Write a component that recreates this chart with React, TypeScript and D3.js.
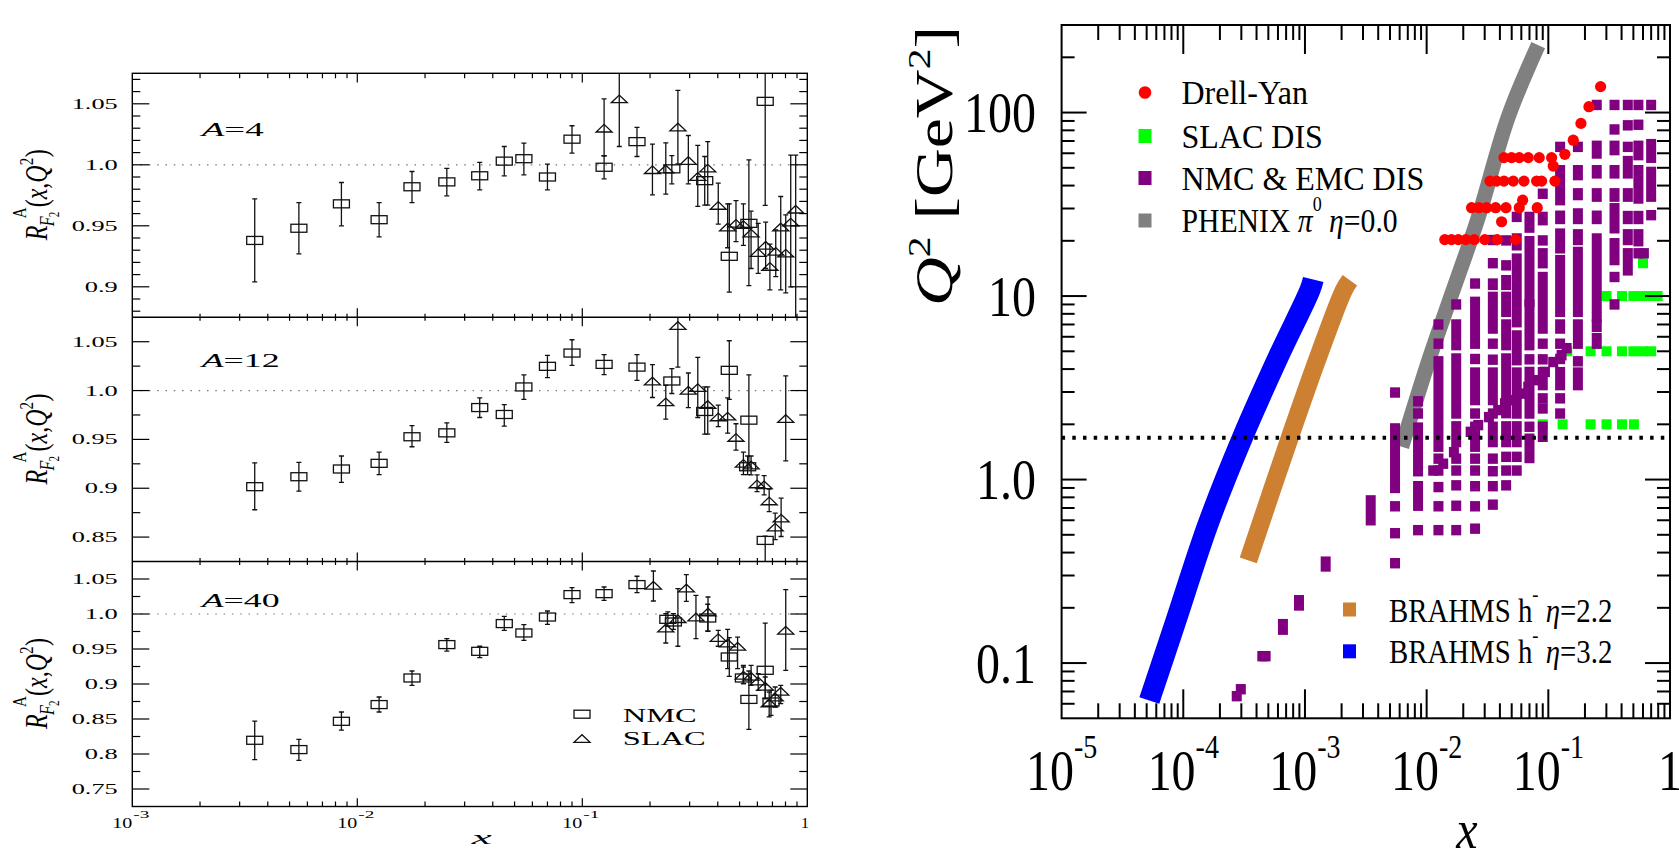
import React from 'react';
import * as d3 from 'd3';

// ---------- left panels: R_F2^A ratios, [x, ratio, low, high] ----------
const nmcA4 = [
  [0.0035, 0.938, 0.904, 0.972], [0.0055, 0.948, 0.927, 0.969], [0.0085, 0.968, 0.950, 0.9855],
  [0.0125, 0.955, 0.941, 0.969], [0.0175, 0.982, 0.969, 0.9945], [0.025, 0.986, 0.9746, 0.997],
  [0.035, 0.991, 0.9795, 1.002], [0.045, 1.003, 0.991, 1.015], [0.055, 1.005, 0.9918, 1.0178],
  [0.07, 0.990, 0.9795, 1.0006], [0.09, 1.021, 1.0096, 1.032], [0.125, 0.998, 0.9885, 1.0074],
  [0.175, 1.019, 1.0068, 1.0306], [0.25, 0.9967, 0.9844, 1.0076], [0.35, 0.987, 0.967, 1.0068],
  [0.45, 0.925, 0.8957, 0.968], [0.55, 0.952, 0.901, 1.004], [0.65, 1.052, 0.9667, 1.09],
];
const slacA4 = [
  [0.125, 1.030, 1.0074, 1.054], [0.146, 1.054, 1.015, 1.09], [0.205, 0.996, 0.9754, 1.017],
  [0.235, 0.9965, 0.976, 1.018], [0.266, 1.031, 1.0008, 1.061], [0.296, 1.0035, 0.9844, 1.024],
  [0.326, 0.9904, 0.966, 1.016], [0.361, 0.9973, 0.967, 1.019], [0.402, 0.9667, 0.9514, 0.985],
  [0.4425, 0.949, 0.932, 0.968], [0.482, 0.952, 0.937, 0.9707], [0.52, 0.951, 0.934, 0.968],
  [0.5625, 0.944, 0.915, 0.962], [0.605, 0.928, 0.911, 0.952], [0.653, 0.934, 0.915, 0.953],
  [0.682, 0.9167, 0.8975, 0.935], [0.724, 0.929, 0.9084, 0.9467], [0.762, 0.949, 0.8975, 0.974],
  [0.802, 0.9276, 0.895, 0.959], [0.844, 0.953, 0.90, 1.008], [0.888, 0.9636, 0.87, 1.008],
];
const nmcA12 = [
  [0.0035, 0.9016, 0.878, 0.926], [0.0055, 0.9118, 0.897, 0.9265], [0.0085, 0.9197, 0.906, 0.933],
  [0.0125, 0.9255, 0.914, 0.937], [0.0175, 0.9527, 0.9425, 0.964], [0.025, 0.9567, 0.947, 0.967],
  [0.035, 0.9826, 0.9724, 0.9925], [0.045, 0.9755, 0.9636, 0.9857], [0.055, 1.0037, 0.991, 1.016],
  [0.07, 1.0248, 1.0133, 1.036], [0.09, 1.0384, 1.0258, 1.052], [0.125, 1.0268, 1.0163, 1.0367],
  [0.175, 1.024, 1.0105, 1.0367], [0.25, 1.0098, 0.997, 1.0224], [0.35, 0.9786, 0.9554, 1.0037],
  [0.45, 1.0207, 0.991, 1.051], [0.543, 0.922, 0.914, 0.933], [0.55, 0.9697, 0.924, 1.016],
  [0.65, 0.8466, 0.80, 0.851],
];
const slacA12 = [
  [0.205, 1.0098, 0.9929, 1.0265], [0.235, 0.9884, 0.9707, 1.0054], [0.266, 1.0666, 1.024, 1.11],
  [0.296, 1.0003, 0.9826, 1.018], [0.326, 1.003, 0.9724, 1.034], [0.361, 0.9857, 0.9554, 1.0037],
  [0.402, 0.973, 0.963, 0.985], [0.4425, 0.9738, 0.9564, 0.9925], [0.482, 0.952, 0.939, 0.966],
  [0.52, 0.9255, 0.914, 0.937], [0.5625, 0.9238, 0.9136, 0.933], [0.598, 0.9044, 0.8965, 0.9136],
  [0.643, 0.9034, 0.8932, 0.9129], [0.677, 0.887, 0.876, 0.899], [0.72, 0.8602, 0.8473, 0.8745],
  [0.765, 0.8694, 0.8506, 0.8898], [0.802, 0.9714, 0.928, 1.015],
];
const nmcA40 = [
  [0.0035, 0.8196, 0.792, 0.847], [0.0055, 0.8063, 0.791, 0.821], [0.0085, 0.8467, 0.834, 0.86],
  [0.0125, 0.8706, 0.86, 0.8814], [0.0175, 0.9086, 0.898, 0.9186], [0.025, 0.9563, 0.9471, 0.9649],
  [0.035, 0.9467, 0.9377, 0.9539], [0.045, 0.9863, 0.9767, 0.9967], [0.055, 0.9729, 0.9624, 0.9849],
  [0.07, 0.9957, 0.9853, 1.0043], [0.09, 1.0277, 1.0163, 1.0377], [0.125, 1.0291, 1.0196, 1.0386],
  [0.175, 1.042, 1.0306, 1.0539], [0.24, 0.9924, 0.9824, 1.003], [0.254, 0.9886, 0.978, 1.0005],
  [0.361, 0.9943, 0.9757, 1.0139], [0.45, 0.9386, 0.911, 0.9663], [0.52, 0.9086, 0.9006, 0.9243],
  [0.55, 0.878, 0.8353, 0.9186], [0.65, 0.9196, 0.8791, 0.9871], [0.69, 0.8743, 0.8553, 0.891],
];
const slacA40 = [
  [0.207, 1.041, 1.0186, 1.0614], [0.235, 0.98, 0.9586, 1.0005], [0.266, 0.9933, 0.9539, 1.0363],
  [0.29, 1.0371, 1.0181, 1.0563], [0.32, 0.9957, 0.9649, 1.0267], [0.362, 1.0029, 0.9753, 1.0243],
  [0.402, 0.9663, 0.9539, 0.9767], [0.4425, 0.9586, 0.922, 0.9781], [0.49, 0.9539, 0.922, 0.9671],
  [0.52, 0.9124, 0.9006, 0.9267], [0.5625, 0.911, 0.898, 0.9267], [0.605, 0.9043, 0.891, 0.9147],
  [0.65, 0.8967, 0.8791, 0.91], [0.677, 0.8729, 0.8529, 0.8886], [0.72, 0.8814, 0.8671, 0.8957],
  [0.762, 0.8896, 0.872, 0.898], [0.802, 0.9767, 0.9196, 1.0349],
];
const nuclei = ['4', '12', '40'];
const yLabelsA4 = ['0.9', '0.95', '1.0', '1.05'];
const yLabelsA12 = ['0.85', '0.9', '0.95', '1.0', '1.05'];
const yLabelsA40 = ['0.75', '0.8', '0.85', '0.9', '0.95', '1.0', '1.05'];
const leftExponents = ['-3', '-2', '-1'];

// ---------- right panel: (x, Q^2) coverage ----------
const drellYan = [
  [0.0141, 20.3], [0.016, 20.3], [0.0182, 20.3], [0.021, 20.3], [0.0246, 20.3], [0.0301, 20.3], [0.038, 20.3], [0.0538, 20.3],
  [0.0413, 25.4],
  [0.0234, 30.3], [0.0269, 30.3], [0.0311, 30.3], [0.0369, 30.3], [0.0449, 30.3], [0.0577, 30.3], [0.0811, 30.3],
  [0.0615, 33.3],
  [0.0331, 42.3], [0.0376, 42.3], [0.0432, 42.3], [0.0515, 42.3], [0.0631, 42.3], [0.0801, 42.3], [0.0881, 42.3], [0.1133, 42.3],
  [0.1097, 51.1],
  [0.0432, 56.8], [0.0499, 56.8], [0.0577, 56.8], [0.0684, 56.8], [0.0842, 56.8], [0.1064, 56.8],
  [0.1368, 59.2], [0.1603, 70.7], [0.1854, 87.3], [0.2157, 107.6], [0.269, 138.4],
];
const slacDis = [
  [0.09, 2], [0.131, 2], [0.2226, 2], [0.301, 2], [0.403, 2], [0.505, 2],
  [0.143, 5], [0.2226, 5], [0.301, 5], [0.403, 5], [0.5, 5], [0.6, 5], [0.7, 5],
  [0.301, 10], [0.403, 10], [0.5, 10], [0.6, 10], [0.7, 10], [0.79, 10],
  [0.6, 15.1],
];
// NMC & EMC: x bin -> list of [Q2 low, Q2 high] runs of markers
const nmcEmc: [number, number[][]][] = [
  [0.000275, [[0.066, 0.066]]], [0.000297, [[0.072, 0.072]]], [0.000446, [[0.109, 0.109]]], [0.000475, [[0.109, 0.109]]],
  [0.000659, [[0.152, 0.163]]], [0.000893, [[0.206, 0.22]]], [0.00148, [[0.336, 0.357]]], [0.00347, [[0.60, 0.77]]],
  [0.0055, [[2.98, 2.98], [0.90, 1.90], [0.715, 0.715], [0.51, 0.51], [0.35, 0.35]]],
  [0.0085, [[2.67, 2.67], [2.29, 2.29], [1.22, 1.92], [1.11, 1.11], [0.72, 0.92], [0.53, 0.53]]],
  [0.0125, [[7.0, 7.0], [5.5, 5.5], [1.51, 4.41], [1.30, 1.30], [1.12, 1.12], [0.91, 0.91], [0.715, 0.715], [0.53, 0.53]]],
  [0.0175, [[9.0, 9.0], [5.4, 7.0], [2.29, 4.57], [1.60, 1.95], [1.30, 1.30], [1.12, 1.12], [0.93, 0.93], [0.72, 0.72], [0.53, 0.53]]],
  [0.025, [[11.7, 11.7], [5.5, 9.3], [4.54, 4.54], [2.71, 3.83], [2.29, 2.29], [1.51, 1.94], [1.30, 1.30], [1.12, 1.12], [0.92, 0.92], [0.715, 0.715], [0.54, 0.54]]],
  [0.035, [[20.2, 20.2], [15.1, 15.1], [11.5, 11.7], [6.65, 9.9], [5.5, 5.5], [4.5, 4.5], [2.71, 3.83], [2.29, 2.29], [1.60, 1.94], [1.30, 1.30], [1.11, 1.11], [0.92, 0.92], [0.73, 0.73]]],
  [0.045, [[20.1, 20.1], [14.7, 14.7], [11.5, 12.2], [8.2, 9.9], [5.4, 7.0], [2.71, 4.57], [2.30, 2.45], [1.60, 1.95], [1.33, 1.33], [1.12, 1.12], [0.93, 0.93]]],
  [0.055, [[27.0, 27.0], [18.9, 20.6], [7.2, 16.0], [4.47, 6.1], [3.0, 3.83], [2.29, 2.71], [1.60, 1.95], [1.33, 1.33], [1.12, 1.12]]],
  [0.07, [[23.6, 27.0], [9.3, 19.9], [5.4, 9.0], [4.52, 4.52], [2.29, 3.86], [1.94, 1.94], [1.31, 1.67]]],
  [0.09, [[36.1, 36.1], [25.9, 27.0], [20.1, 20.1], [15.1, 17.1], [6.65, 12.7], [5.5, 5.5], [4.52, 4.52], [3.27, 3.85], [2.77, 2.77], [2.44, 2.44], [1.71, 1.94]]],
  [0.125, [[65, 65], [33.3, 48.5], [26.3, 27.4], [18.2, 21.9], [8.2, 15.7], [6.65, 7.0], [5.5, 5.5], [4.54, 4.54], [3.27, 3.85], [2.77, 2.77], [2.29, 2.29]]],
  [0.175, [[65, 65], [45.6, 48.5], [35.5, 36.3], [26.3, 28.2], [20.2, 21.7], [8.2, 17.4], [5.5, 7.0], [4.41, 4.41], [3.27, 3.83]]],
  [0.25, [[110, 110], [59.8, 65.9], [46.6, 48.5], [34.8, 36.3], [26.3, 27.4], [8.7, 20.6], [7.7, 7.7], [6.8, 7.0], [5.5, 5.9]]],
  [0.35, [[110, 110], [80.9, 80.9], [62.4, 65.9], [46.6, 48.5], [34.8, 36.3], [23.4, 30.1], [15.7, 19.4], [12.7, 12.7], [9.0, 9.0]]],
  [0.45, [[110, 110], [85.2, 85.2], [65, 65], [46.6, 54.4], [34.8, 36.3], [26.3, 27.3], [20.2, 21.7], [13.8, 17.1]]],
  [0.55, [[110, 110], [85.8, 85.8], [58.6, 65.9], [34, 48.5], [26.3, 27.3], [19.9, 21.7], [17.1, 17.1]]],
  [0.61, [[17.1, 17.1]]],
  [0.7, [[110, 110], [56.7, 67.3], [34.8, 47.5], [27.6, 27.6]]],
];
const nmcEmcEdge = [
  [0.01132, 1.12], [0.01368, 1.22], [0.01675, 1.41], [0.023, 1.82], [0.02655, 1.98], [0.0325, 2.19],
  [0.0387, 2.39], [0.044, 2.6], [0.0515, 2.71], [0.0585, 2.94], [0.0684, 3.2], [0.0801, 3.48],
  [0.0938, 3.86], [0.1097, 4.37], [0.1285, 4.76], [0.1413, 5.2],
];
const phenix = [[0.00624, 1.51], [0.01064, 4.66], [0.0155, 9.56], [0.0261, 25.9], [0.0469, 94.8], [0.0826, 233]];
const brahms22 = [[0.000342, 0.363], [0.000754, 1.71], [0.001285, 4.66], [0.00209, 10.8], [0.00234, 12.2]];
const brahms32 = [[0.0000526, 0.0625], [0.0000855, 0.164], [0.0001604, 0.575], [0.000308, 1.71], [0.000604, 4.66], [0.0011, 10.8], [0.00117, 12.3]];
const q2Min = 1.69;
const rightYLabels = [[0.1, '0.1'], [1, '1.0'], [10, '10'], [100, '100']];
const rightExponents = ['-5', '-4', '-3', '-2', '-1'];

const W = 1679;
const H = 859;
const LX0 = 132.3;
const LX1 = 807.3;
const serif = "'Liberation Serif', 'Times New Roman', serif";

const App = () => {
  const xL = d3.scaleLog().domain([1e-3, 1]).range([LX0, LX1]);
  const xR = d3.scaleLog().domain([1e-5, 1]).range([1061.6, 1670]);
  const yR = d3.scaleLog().domain([0.05, 300]).range([718.3, 25]);

  const panels = [
    { top: 73.3, bottom: 317.3, dom: [0.875, 1.075], minor: 0.01, labels: yLabelsA4, nmc: nmcA4, slac: slacA4, labW: 62 },
    { top: 317.3, bottom: 561.5, dom: [0.825, 1.075], minor: 0.025, labels: yLabelsA12, nmc: nmcA12, slac: slacA12, labW: 78 },
    { top: 561.5, bottom: 806.5, dom: [0.725, 1.075], minor: 0.025, labels: yLabelsA40, nmc: nmcA40, slac: slacA40, labW: 78 },
  ];

  // log ticks (1..9 per decade)
  const logTicks = (lo: number, hi: number) => {
    const out: { v: number; major: boolean }[] = [];
    for (let e = lo; e < hi; e++) for (let m = 1; m <= 9; m++) out.push({ v: m * Math.pow(10, e), major: m === 1 });
    out.push({ v: Math.pow(10, hi), major: true });
    return out;
  };
  const xTicksL = logTicks(-3, 0);
  const xTicksR = logTicks(-5, 0);
  const yTicksR = logTicks(-2, 3).filter(t => t.v > 0.05 && t.v < 300);

  const boundaries = [panels[0].top, panels[0].bottom, panels[1].bottom, panels[2].bottom];

  const bandLine = d3.line<number[]>().x(d => xR(d[0])).y(d => yR(d[1])).curve(d3.curveCatmullRom);

  const legendRows = [92.5, 136, 178, 220.5];

  return (
    <svg width={W} height={H} style={{ position: 'absolute', left: 0, top: 0 }} fontFamily={serif}>
      <rect width={W} height={H} fill="#fff" />

      {/* ================= LEFT FIGURE ================= */}
      {panels.map((p, i) => {
        const y = d3.scaleLinear().domain(p.dom).range([p.bottom, p.top]);
        const cid = `lclip${i}`;
        const k0 = Math.ceil(p.dom[0] / p.minor - 1e-6);
        const k1 = Math.floor(p.dom[1] / p.minor + 1e-6);
        const yt = d3.range(k0, k1 + 1).map(k => {
          const v = k * p.minor;
          const r = v / 0.05;
          return { v, major: Math.abs(r - Math.round(r)) < 1e-6 };
        }).filter(t => t.v > p.dom[0] + 1e-6 && t.v < p.dom[1] - 1e-6);
        const cy = (p.top + p.bottom) / 2;
        return (
          <g key={i}>
            <clipPath id={cid}>
              <rect x={LX0} y={p.top} width={LX1 - LX0} height={p.bottom - p.top} />
            </clipPath>
            <line x1={LX0} x2={LX1} y1={y(1)} y2={y(1)} stroke="#777" strokeWidth={1.2} strokeDasharray="1.5 6.8" />
            <g clipPath={`url(#${cid})`} stroke="#111" strokeWidth={1.3} fill="none">
              {p.nmc.map((d, j) => (
                <g key={'n' + j}>
                  <line x1={xL(d[0])} x2={xL(d[0])} y1={y(d[2])} y2={y(d[3])} />
                  <line x1={xL(d[0]) - 2.5} x2={xL(d[0]) + 2.5} y1={y(d[2])} y2={y(d[2])} />
                  <line x1={xL(d[0]) - 2.5} x2={xL(d[0]) + 2.5} y1={y(d[3])} y2={y(d[3])} />
                  <rect x={xL(d[0]) - 8} y={y(d[1]) - 4} width={16} height={8} />
                </g>
              ))}
              {p.slac.map((d, j) => {
                const cx = xL(d[0]);
                const c = y(d[1]);
                return (
                  <g key={'s' + j}>
                    <line x1={cx} x2={cx} y1={y(d[2])} y2={y(d[3])} />
                    <line x1={cx - 2.5} x2={cx + 2.5} y1={y(d[2])} y2={y(d[2])} />
                    <line x1={cx - 2.5} x2={cx + 2.5} y1={y(d[3])} y2={y(d[3])} />
                    <path d={`M${cx - 8},${c + 3.8}L${cx + 8},${c + 3.8}L${cx},${c - 3.8}Z`} />
                  </g>
                );
              })}
            </g>
            {/* y ticks */}
            <g stroke="#000" strokeWidth={1.2}>
              {yt.map((t, j) => (
                <g key={j}>
                  <line x1={LX0} x2={LX0 + (t.major ? 17 : 8)} y1={y(t.v)} y2={y(t.v)} />
                  <line x1={LX1} x2={LX1 - (t.major ? 17 : 8)} y1={y(t.v)} y2={y(t.v)} />
                </g>
              ))}
            </g>
            {p.labels.map((l, j) => (
              <text key={j} x={117.7} y={y(+l) + 5} textAnchor="end" fontSize={14}
                textLength={l.length > 3 ? 46 : 33} lengthAdjust="spacingAndGlyphs">{l}</text>
            ))}
            <text x={201.7} y={p.top + (i === 0 ? 62.4 : i === 1 ? 49.4 : 45.8)} fontSize={18}
              textLength={p.labW} lengthAdjust="spacingAndGlyphs">
              <tspan fontStyle="italic">A</tspan>={nuclei[i]}
            </text>
            {/* rotated y-axis label */}
            <g transform={`translate(47,${cy}) rotate(-90) scale(1,1.3)`}>
              <text x={-45} y={0} fontSize={24} fontStyle="italic">R</text>
              <text x={-31} y={5} fontSize={16} fontStyle="italic">F</text>
              <text x={-22} y={9} fontSize={11}>2</text>
              <text x={-23} y={-16} fontSize={15}>A</text>
              <text x={-12} y={0} fontSize={24}>(<tspan fontStyle="italic">x</tspan>,<tspan fontStyle="italic">Q</tspan></text>
              <text x={30} y={-11} fontSize={15}>2</text>
              <text x={38} y={0} fontSize={24}>)</text>
            </g>
          </g>
        );
      })}
      {/* left frame */}
      <rect x={LX0} y={73.3} width={LX1 - LX0} height={806.5 - 73.3} fill="none" stroke="#000" strokeWidth={1.4} />
      {boundaries.slice(1, 3).map((b, i) => (
        <line key={i} x1={LX0} x2={LX1} y1={b} y2={b} stroke="#000" strokeWidth={1.4} />
      ))}
      <g stroke="#000" strokeWidth={1.2}>
        {xTicksL.filter(t => t.v > 1e-3 && t.v < 1).map((t, j) => {
          const x = xL(t.v);
          const half = t.major ? 9 : 3.5;
          return (
            <g key={j}>
              <line x1={x} x2={x} y1={73.3} y2={73.3 + (t.major ? 9.3 : 5)} />
              {boundaries.slice(1, 3).map((b, k) => (
                <line key={k} x1={x} x2={x} y1={b - half} y2={b + half} />
              ))}
              <line x1={x} x2={x} y1={806.5} y2={806.5 - (t.major ? 8.3 : 5)} />
            </g>
          );
        })}
      </g>
      {leftExponents.map((e, i) => {
        const x = xL(Math.pow(10, +e));
        return (
          <g key={i}>
            <text x={x} y={828} fontSize={15} textAnchor="end" textLength={20} lengthAdjust="spacingAndGlyphs">10</text>
            <text x={x + 1} y={818} fontSize={11} textLength={16} lengthAdjust="spacingAndGlyphs">{e}</text>
          </g>
        );
      })}
      <text x={805} y={828} fontSize={15} textAnchor="middle" textLength={8} lengthAdjust="spacingAndGlyphs">1</text>
      <text x={471.7} y={844} fontSize={18} fontStyle="italic" textLength={20} lengthAdjust="spacingAndGlyphs">x</text>
      {/* left legend */}
      <rect x={574} y={710.2} width={16} height={8} fill="none" stroke="#111" strokeWidth={1.3} />
      <path d="M574,742.3L590,742.3L582,734.7Z" fill="none" stroke="#111" strokeWidth={1.3} />
      <text x={622.7} y={722.3} fontSize={19} textLength={74} lengthAdjust="spacingAndGlyphs">NMC</text>
      <text x={622.7} y={744.5} fontSize={19} textLength={83} lengthAdjust="spacingAndGlyphs">SLAC</text>

      {/* ================= RIGHT FIGURE ================= */}
      <defs>
        <clipPath id="rclip">
          <rect x={1061.6} y={25} width={1670 - 1061.6} height={718.3 - 25} />
        </clipPath>
      </defs>
      <g clipPath="url(#rclip)">
        <path d={bandLine(phenix) || ''} fill="none" stroke="#808080" strokeWidth={15} />
        <path d={bandLine(brahms22) || ''} fill="none" stroke="#cd7f32" strokeWidth={18} />
        <path d={bandLine(brahms32) || ''} fill="none" stroke="#0000ff" strokeWidth={21} />
        {slacDis.map((d, i) => (
          <rect key={i} x={xR(d[0]) - 5} y={yR(d[1]) - 5} width={10} height={10} fill="#00ff00" />
        ))}
        {nmcEmc.map(([x, runs], i) => runs.map((r, j) => (
          <rect key={i + '-' + j} x={xR(x) - 5} y={yR(r[1]) - 5.2} width={10}
            height={yR(r[0]) - yR(r[1]) + 10.4} fill="#800080" />
        )))}
        {nmcEmcEdge.map((d, i) => (
          <rect key={i} x={xR(d[0]) - 5} y={yR(d[1]) - 5.2} width={10} height={10.4} fill="#800080" />
        ))}
        {drellYan.map((d, i) => (
          <circle key={i} cx={xR(d[0])} cy={yR(d[1])} r={5.6} fill="#ff0000" />
        ))}
        <line x1={1061.6} x2={1670} y1={yR(q2Min)} y2={yR(q2Min)} stroke="#000" strokeWidth={4} strokeDasharray="3.5 7.2" />
      </g>
      {/* right frame + ticks */}
      <rect x={1061.6} y={25} width={1670 - 1061.6} height={718.3 - 25} fill="none" stroke="#000" strokeWidth={2} />
      <g stroke="#000" strokeWidth={2}>
        {xTicksR.filter(t => t.v > 1e-5 && t.v < 1).map((t, i) => {
          const x = xR(t.v);
          const len = t.major ? 29 : 15;
          return (
            <g key={i}>
              <line x1={x} x2={x} y1={25} y2={25 + len} />
              <line x1={x} x2={x} y1={718.3} y2={718.3 - len} />
            </g>
          );
        })}
        {yTicksR.map((t, i) => {
          const y = yR(t.v);
          const len = t.major ? 25 : 13;
          return (
            <g key={i}>
              <line x1={1061.6} x2={1061.6 + len} y1={y} y2={y} />
              <line x1={1670} x2={1670 - len} y1={y} y2={y} />
            </g>
          );
        })}
      </g>
      {rightYLabels.map(([v, l], i) => (
        <text key={i} transform={`translate(1036,${yR(v as number) + 19.5}) scale(1,1.2)`} textAnchor="end" fontSize={48}>{l}</text>
      ))}
      {rightExponents.map((e, i) => (
        <text key={i} transform={`translate(${xR(Math.pow(10, +e))},790) scale(1,1.2)`} textAnchor="middle" fontSize={48}>
          10<tspan dy={-27} fontSize={28}>{e}</tspan>
        </text>
      ))}
      <text transform="translate(1670,790) scale(1,1.2)" textAnchor="middle" fontSize={48}>1</text>
      <text transform="translate(1467,848) scale(1,1.15)" textAnchor="middle" fontSize={48} fontStyle="italic">x</text>
      <text transform="translate(952,166) rotate(-90) scale(1.3,1)" textAnchor="middle" fontSize={52}>
        <tspan fontStyle="italic">Q</tspan><tspan dy={-22} fontSize={32}>2</tspan><tspan dy={22}> [GeV</tspan>
        <tspan dy={-22} fontSize={32}>2</tspan><tspan dy={22}>]</tspan>
      </text>

      {/* right legends */}
      <circle cx={1145} cy={legendRows[0]} r={6.3} fill="#ff0000" />
      <rect x={1138.5} y={legendRows[1] - 7} width={13} height={14} fill="#00ff00" />
      <rect x={1138.5} y={legendRows[2] - 7} width={13} height={14} fill="#800080" />
      <rect x={1138.5} y={legendRows[3] - 7} width={13} height={14} fill="#808080" />
      <g fontSize={33}>
        <text transform={`translate(1181.5,${legendRows[0] + 11.5}) scale(0.97,1.04)`}>Drell-Yan</text>
        <text transform={`translate(1181.5,${legendRows[1] + 11.5}) scale(0.97,1.04)`}>SLAC DIS</text>
        <text transform={`translate(1181.5,${legendRows[2] + 11.5}) scale(0.97,1.04)`}>NMC &amp; EMC DIS</text>
        <text transform={`translate(1181.5,${legendRows[3] + 11.5}) scale(0.9,1.04)`}>
          PHENIX <tspan fontStyle="italic">π</tspan><tspan dy={-20} fontSize={20}>0</tspan>
          <tspan dy={20}> </tspan><tspan fontStyle="italic">η</tspan>=0.0
        </text>
      </g>
      <rect x={1343} y={602.5} width={13} height={14} fill="#cd7f32" />
      <rect x={1343} y={644.3} width={13} height={14} fill="#0000ff" />
      <g fontSize={31}>
        <text transform="translate(1389,621.7) scale(0.93,1.06)">
          BRAHMS h<tspan dy={-20} fontSize={20}>-</tspan><tspan dy={20}> </tspan><tspan fontStyle="italic">η</tspan>=2.2
        </text>
        <text transform="translate(1389,663.3) scale(0.93,1.06)">
          BRAHMS h<tspan dy={-20} fontSize={20}>-</tspan><tspan dy={20}> </tspan><tspan fontStyle="italic">η</tspan>=3.2
        </text>
      </g>
    </svg>
  );
};

export default App;
